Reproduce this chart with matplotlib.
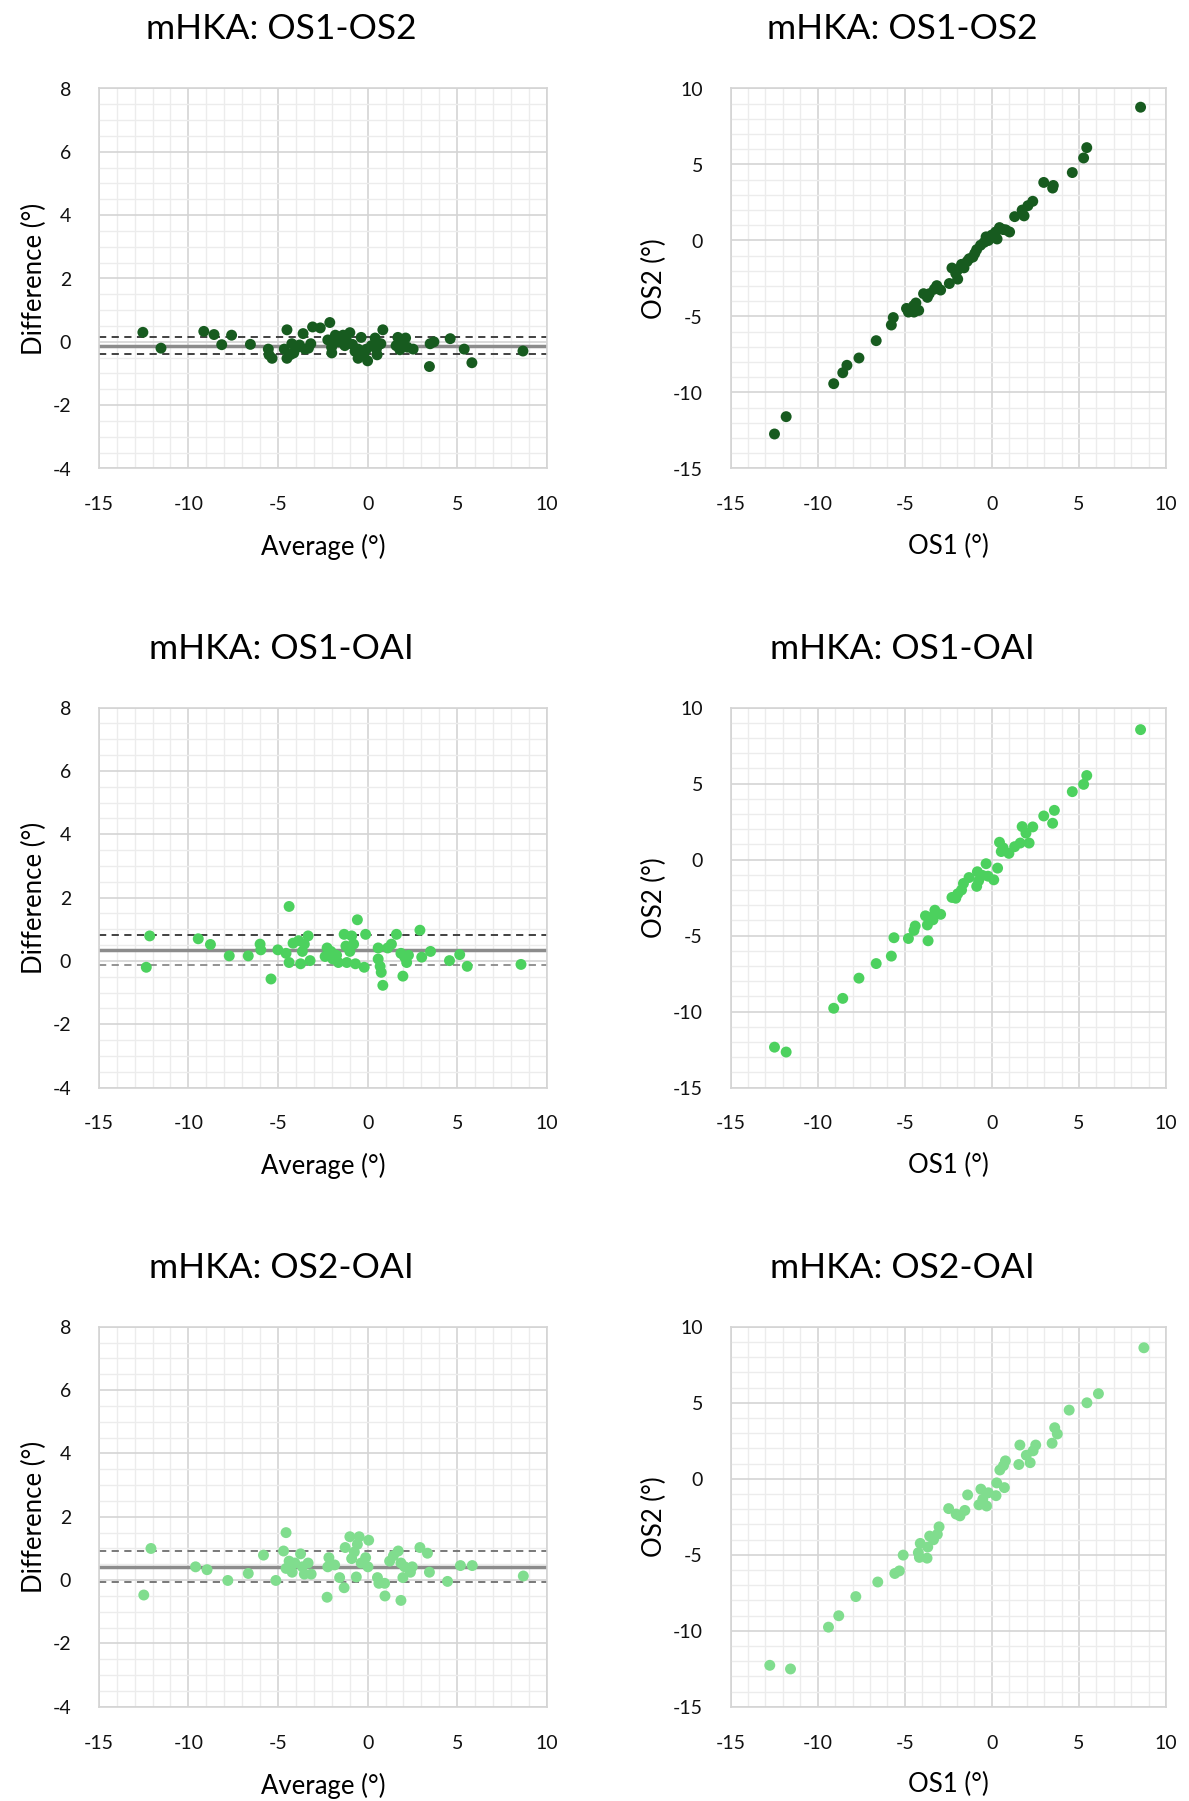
import numpy as np
import matplotlib
matplotlib.use("Agg")
import matplotlib.pyplot as plt
from matplotlib.ticker import MultipleLocator

plt.rcParams['font.family'] = ['Lato', 'DejaVu Sans']
plt.rcParams['axes.unicode_minus'] = False

# ---- data ----
# Bland-Altman OS1-OS2
ba1_avg = [-12.54, -11.53, -9.14, -8.57, -8.14, -7.59, -6.54, -5.54, -5.50, -5.33,
           -4.50, -4.50, -4.65, -4.23, -4.12, -3.91, -3.60, -3.49, -3.17, -3.07,
           -2.64, -2.11, -2.22, -2.01, -1.80, -1.59, -1.37, -1.27, -0.99, -0.85,
           -0.53, -0.36, -0.53, -0.21, 0.00, -0.06, 0.21, 0.42, 0.49, 0.53,
           0.85, 0.74, 1.69, 1.59, 1.90, 2.12, 2.22, 2.54, 3.49, 3.45,
           3.70, 4.61, 5.39, 5.82, 8.67, -1.90, -1.60, -2.00, -1.20, -0.70,
           0.60, 2.00, 1.80, -4.30, -3.80, -3.30]
ba1_diff = [0.30, -0.20, 0.33, 0.23, -0.09, 0.21, -0.08, -0.23, -0.41, -0.52,
            0.38, -0.52, -0.23, -0.06, -0.35, -0.17, 0.26, -0.23, -0.06, 0.47,
            0.44, 0.61, 0.06, -0.17, 0.21, 0.00, 0.21, -0.12, 0.29, -0.08,
            -0.23, 0.14, -0.52, -0.41, -0.60, -0.23, -0.12, 0.12, -0.23, -0.41,
            0.38, -0.06, 0.14, -0.12, 0.00, 0.12, -0.17, -0.23, -0.06, -0.78,
            0.00, 0.10, -0.23, -0.66, -0.29, -0.05, 0.15, -0.35, 0.10, -0.30,
            -0.10, -0.05, -0.25, -0.40, -0.10, -0.20]
ba1_lines = [-0.12, 0.16, -0.40]   # mean, upper LoA, lower LoA

# Scatter OS1-OS2
sc1_x = [8.54, 5.45, 5.27, 4.62, 2.98, 3.53, 3.49, 2.35, 2.07, 1.74,
         1.85, 1.31, 1.02, 0.65, 0.44, 0.22, 0.00, -0.33, -0.44, -0.65,
         -0.87, -1.09, -0.98, -1.42, -1.74, -1.96, -2.07, -2.29, -1.96, -2.44,
         -2.94, -3.16, -3.59, -3.70, -3.92, -4.36, -4.47, -4.90, -4.79, -5.66,
         -5.77, -6.64, -7.63, -8.32, -8.56, -9.08, -11.81, -12.48, 0.30, 0.80,
         -0.20, -1.30, -1.60, -4.50, -4.20, -3.30]
sc1_y = [8.77, 6.11, 5.43, 4.47, 3.82, 3.62, 3.45, 2.58, 2.29, 2.00,
         1.62, 1.57, 0.56, 0.72, 0.85, 0.56, 0.36, 0.24, -0.12, -0.31,
         -0.60, -1.09, -0.85, -1.38, -1.57, -1.93, -2.17, -1.81, -2.54, -2.83,
         -3.26, -2.97, -3.50, -3.74, -3.50, -4.11, -4.71, -4.47, -4.71, -5.07,
         -5.56, -6.59, -7.73, -8.21, -8.70, -9.42, -11.59, -12.73, 0.10, 0.70,
         0.00, -1.20, -1.80, -4.30, -4.60, -3.20]

# Bland-Altman OS1-OAI
ba2_avg = [-12.16, -12.35, -9.45, -8.77, -7.72, -6.66, -6.00, -5.96, -5.39, -5.01,
           -4.38, -4.55, -4.38, -4.16, -3.85, -3.74, -3.64, -3.53, -3.32, -3.21,
           -2.26, -2.37, -2.05, -1.94, -1.73, -1.63, -1.31, -1.21, -1.16, -0.99,
           -0.89, -0.78, -0.68, -0.57, -0.11, -0.19, 0.59, 0.59, 0.70, 0.76,
           0.85, 1.12, 1.33, 1.61, 1.86, 1.97, 2.07, 2.18, 2.28, 2.92,
           3.02, 3.51, 4.57, 5.14, 5.56, 8.56]
ba2_diff = [0.79, -0.20, 0.70, 0.52, 0.16, 0.16, 0.53, 0.35, -0.57, 0.35,
            1.72, 0.24, -0.05, 0.56, 0.64, -0.09, 0.30, 0.53, 0.79, 0.01,
            0.41, 0.14, 0.30, 0.06, 0.18, -0.05, 0.84, 0.47, -0.05, 0.30,
            0.79, 0.53, -0.09, 1.30, 0.84, -0.20, 0.41, 0.06, -0.17, -0.36,
            -0.77, 0.41, 0.53, 0.84, 0.24, -0.48, 0.12, -0.05, 0.18, 0.97,
            0.12, 0.30, 0.01, 0.20, -0.17, -0.11]
ba2_lines = [0.35, 0.81, -0.12]

# Scatter OS1-OAI
sc2_x = [8.54, 5.45, 5.27, 4.62, 3.59, 2.98, 3.49, 2.35, 1.74, 1.96,
         2.14, 1.63, 1.31, 0.98, 0.44, 0.54, 0.65, 0.33, 0.11, -0.33,
         -0.22, -0.54, -0.83, -0.76, -0.87, -1.31, -1.63, -1.74, -1.96, -2.07,
         -2.29, -2.94, -3.27, -3.38, -3.59, -3.81, -3.70, -4.40, -4.47, -4.79,
         -3.66, -5.62, -5.77, -6.64, -7.63, -8.56, -9.08, -12.48, -11.81]
sc2_y = [8.55, 5.53, 4.95, 4.47, 3.24, 2.87, 2.39, 2.15, 2.17, 1.74,
         1.09, 1.09, 0.85, 0.41, 1.14, 0.53, 0.77, -0.56, -1.33, -0.27,
         -1.09, -1.04, -0.80, -1.40, -1.76, -1.18, -1.57, -2.00, -2.25, -2.54,
         -2.49, -3.60, -3.33, -3.96, -3.82, -3.70, -4.30, -4.37, -4.66, -5.19,
         -5.34, -5.14, -6.35, -6.84, -7.80, -9.13, -9.78, -12.34, -12.66]

# Bland-Altman OS2-OAI
ba3_avg = [-12.09, -12.49, -9.60, -8.96, -7.80, -6.66, -5.81, -5.12, -4.69, -4.55,
           -4.55, -4.38, -4.21, -4.06, -3.74, -3.64, -3.53, -3.32, -3.15, -2.26,
           -2.16, -2.22, -1.84, -1.56, -1.31, -1.25, -0.99, -0.89, -0.74, -0.63,
           -0.57, -0.47, -0.36, -0.11, 0.02, 0.06, 0.55, 0.63, 0.95, 0.97,
           1.23, 1.44, 1.71, 1.86, 1.86, 1.97, 2.07, 2.39, 2.49, 2.92,
           3.34, 3.45, 4.46, 5.18, 5.84, 8.69]
ba3_diff = [1.00, -0.47, 0.42, 0.33, -0.01, 0.21, 0.79, -0.01, 0.92, 1.50,
            0.37, 0.60, 0.25, 0.54, 0.83, 0.42, 0.19, 0.54, 0.19, -0.54,
            0.71, 0.42, 0.48, 0.08, -0.24, 1.03, 1.37, 0.68, 0.89, 0.10,
            1.13, 1.37, 0.54, 0.71, 0.42, 1.26, 0.08, -0.10, -0.10, -0.50,
            0.60, 0.77, 0.92, 0.54, -0.64, 0.08, 0.42, 0.25, 0.42, 1.03,
            0.85, 0.25, -0.04, 0.46, 0.46, 0.13]
ba3_lines = [0.42, 0.92, -0.05]

# Scatter OS2-OAI
sc3_x = [8.73, 6.12, 5.46, 4.44, 3.61, 3.76, 3.46, 2.52, 2.37, 1.61,
         1.98, 2.20, 1.55, 0.78, 0.67, 0.46, 0.28, 0.72, 0.24, -0.20,
         -0.63, -0.52, -0.74, -0.30, -1.39, -1.55, -1.83, -2.05, -2.48, -3.03,
         -3.13, -3.35, -3.57, -3.68, -4.11, -4.22, -4.16, -3.72, -5.09, -5.31,
         -5.57, -6.55, -7.81, -8.79, -9.38, -12.75, -11.56]
sc3_y = [8.62, 5.60, 5.00, 4.52, 3.36, 2.95, 2.34, 2.22, 1.84, 2.22,
         1.55, 1.06, 0.94, 1.18, 0.87, 0.58, -0.27, -0.58, -1.11, -0.92,
         -0.68, -1.35, -1.71, -1.79, -1.06, -2.08, -2.44, -2.32, -1.96, -3.16,
         -3.65, -4.01, -3.77, -4.49, -4.25, -4.86, -5.17, -5.22, -5.02, -6.06,
         -6.23, -6.79, -7.75, -9.01, -9.76, -12.27, -12.51]

titles = ["mHKA: OS1-OS2", "mHKA: OS1-OAI", "mHKA: OS2-OAI"]
colors = ["#175B1F", "#4CD15E", "#80DD8E"]
dash_colors = [("#333333", "#333333"), ("#333333", "#8a8a8a"), ("#6e6e6e", "#6e6e6e")]

W, H = 1189, 1801
fig = plt.figure(figsize=(W / 100, H / 100), dpi=100)

row_tops = [88.5, 707.6, 1326.8]
title_y = [28.7, 649, 1268]
ax_h = 380


def style_axes(ax, xminor, yminor):
    ax.xaxis.set_minor_locator(MultipleLocator(xminor))
    ax.yaxis.set_minor_locator(MultipleLocator(yminor))
    ax.grid(which="major", color="#d4d4d4", lw=1.2, zorder=0)
    ax.grid(which="minor", color="#ececec", lw=1.0, zorder=0)
    ax.set_axisbelow(True)
    for s in ax.spines.values():
        s.set_color("#d4d4d4")
        s.set_linewidth(1.2)
    ax.tick_params(which="both", length=0, labelsize=14, colors="#111111")
    ax.tick_params(axis="x", pad=20)
    ax.tick_params(axis="y", pad=20)


def bland_altman(ax, avg, diff, lines, color, dcols):
    ax.scatter(avg, diff, s=62, color=color, edgecolors="none", zorder=3)
    ax.axhline(lines[0], color="#8c8c8c", lw=2.5, zorder=2)
    ax.axhline(lines[1], color=dcols[0], lw=1.3, ls=(0, (4, 3)), zorder=2)
    ax.axhline(lines[2], color=dcols[1], lw=1.3, ls=(0, (4, 3)), zorder=2)
    ax.set_xlim(-15, 10)
    ax.set_ylim(-4, 8)
    ax.set_xticks([-15, -10, -5, 0, 5, 10])
    ax.set_yticks([-4, -2, 0, 2, 4, 6, 8])
    style_axes(ax, 1, 0.5)
    ax.set_xlabel("Average (°)", fontsize=18.5, labelpad=15)
    ax.set_ylabel("Difference (°)", fontsize=18.5, labelpad=4)


def agreement(ax, x, y, color):
    ax.scatter(x, y, s=62, color=color, edgecolors="none", zorder=3)
    ax.set_xlim(-15, 10)
    ax.set_ylim(-15, 10)
    ax.set_xticks([-15, -10, -5, 0, 5, 10])
    ax.set_yticks([-15, -10, -5, 0, 5, 10])
    style_axes(ax, 1, 1)
    ax.set_xlabel("OS1 (°)", fontsize=18.5, labelpad=15)
    ax.set_ylabel("OS2 (°)", fontsize=18.5, labelpad=4)


ba_sets = [(ba1_avg, ba1_diff, ba1_lines), (ba2_avg, ba2_diff, ba2_lines), (ba3_avg, ba3_diff, ba3_lines)]
sc_sets = [(sc1_x, sc1_y), (sc2_x, sc2_y), (sc3_x, sc3_y)]

for i in range(3):
    bottom = 1 - (row_tops[i] + ax_h) / H
    axl = fig.add_axes([98.8 / W, bottom, 448 / W, ax_h / H])
    avg, diff, lines = ba_sets[i]
    bland_altman(axl, avg, diff, lines, colors[i], dash_colors[i])

    axr = fig.add_axes([730.6 / W, bottom, 435.4 / W, ax_h / H])
    sx, sy = sc_sets[i]
    agreement(axr, sx, sy, colors[i])

    fig.text(281 / W, 1 - title_y[i] / H, titles[i], fontsize=25.5, ha="center", va="center")
    fig.text(902 / W, 1 - title_y[i] / H, titles[i], fontsize=25.5, ha="center", va="center")

fig.savefig("out.png", dpi=100, facecolor="white")
